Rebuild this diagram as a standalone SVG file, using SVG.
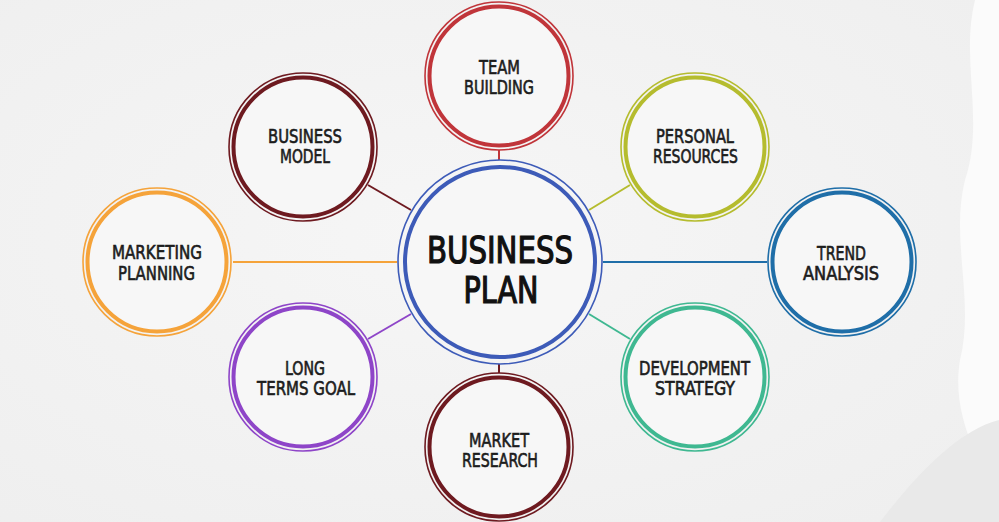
<svg xmlns="http://www.w3.org/2000/svg" width="999" height="522" viewBox="0 0 999 522">
<defs>
<radialGradient id="bg" cx="0.45" cy="0.45" r="0.8">
<stop offset="0" stop-color="#f6f6f6"/>
<stop offset="1" stop-color="#eeeeee"/>
</radialGradient>
</defs>
<style>
.t{font-family:"DejaVu Sans Condensed","DejaVu Sans",sans-serif;font-weight:normal;font-size:19px;fill:#1c1c1c;stroke:#1c1c1c;stroke-width:0.6;text-anchor:middle}
.c{font-family:"DejaVu Sans Condensed","DejaVu Sans",sans-serif;font-weight:normal;font-size:37px;fill:#111;stroke:#111;stroke-width:1.2;text-anchor:middle}
.o{fill:none;stroke-width:1.6}
.i{fill:#f7f7f7;stroke-width:4}
.ln{stroke-width:2;fill:none}
</style>
<rect width="999" height="522" fill="url(#bg)"/>
<path d="M975 0 C960 60 985 120 965 180 C950 240 975 300 960 360 C950 420 985 470 999 500 L999 0 Z" fill="#fbfbfb"/>
<path d="M880 522 C920 470 960 430 999 420 L999 522 Z" fill="#e9e9e9"/>
<g id="connectors">
<line class="ln" x1="499" y1="150" x2="499" y2="160" stroke="#c0353a"/>
<line class="ln" x1="499" y1="364" x2="499" y2="373" stroke="#6e1a20"/>
<line class="ln" x1="411" y1="210" x2="368" y2="185" stroke="#6e1a20"/>
<line class="ln" x1="589" y1="210" x2="630" y2="185" stroke="#b5bc2e"/>
<line class="ln" x1="233" y1="262" x2="397" y2="262" stroke="#f5a33a"/>
<line class="ln" x1="603" y1="262" x2="767" y2="262" stroke="#1f6ea8"/>
<line class="ln" x1="411" y1="314" x2="368" y2="339" stroke="#8e45c8"/>
<line class="ln" x1="589" y1="314" x2="630" y2="339" stroke="#3fb891"/>
</g>
<g id="center">
<circle cx="500" cy="262" r="102" class="o" stroke="#3d5bb8" stroke-width="2"/>
<circle cx="500" cy="262" r="95" class="i" stroke="#3d5bb8" stroke-width="5.5"/>
<text class="c" x="500" y="263" textLength="146" lengthAdjust="spacingAndGlyphs">BUSINESS</text>
<text class="c" x="501" y="303" textLength="75" lengthAdjust="spacingAndGlyphs">PLAN</text>
</g>
<g id="team-building">
<circle cx="499" cy="76" r="74" class="o" stroke="#c0353a"/>
<circle cx="499" cy="76" r="69.5" class="i" stroke="#c0353a"/>
<text class="t" x="499.5" y="74" textLength="41" lengthAdjust="spacingAndGlyphs">TEAM</text>
<text class="t" x="499" y="94" textLength="70" lengthAdjust="spacingAndGlyphs">BUILDING</text>
</g>
<g id="business-model">
<circle cx="303" cy="147" r="74" class="o" stroke="#6e1a20"/>
<circle cx="303" cy="147" r="69.5" class="i" stroke="#6e1a20"/>
<text class="t" x="305" y="143" textLength="74" lengthAdjust="spacingAndGlyphs">BUSINESS</text>
<text class="t" x="305" y="163" textLength="50" lengthAdjust="spacingAndGlyphs">MODEL</text>
</g>
<g id="personal-resources">
<circle cx="695" cy="147" r="74" class="o" stroke="#b5bc2e"/>
<circle cx="695" cy="147" r="69.5" class="i" stroke="#b5bc2e"/>
<text class="t" x="695" y="143" textLength="78" lengthAdjust="spacingAndGlyphs">PERSONAL</text>
<text class="t" x="695.5" y="163" textLength="85" lengthAdjust="spacingAndGlyphs">RESOURCES</text>
</g>
<g id="marketing-planning">
<circle cx="157" cy="262" r="74" class="o" stroke="#f5a33a"/>
<circle cx="157" cy="262" r="69.5" class="i" stroke="#f5a33a"/>
<text class="t" x="157" y="259" textLength="90" lengthAdjust="spacingAndGlyphs">MARKETING</text>
<text class="t" x="156.5" y="280" textLength="77" lengthAdjust="spacingAndGlyphs">PLANNING</text>
</g>
<g id="trend-analysis">
<circle cx="842" cy="262" r="74" class="o" stroke="#1f6ea8"/>
<circle cx="842" cy="262" r="69.5" class="i" stroke="#1f6ea8"/>
<text class="t" x="841.5" y="260" textLength="49" lengthAdjust="spacingAndGlyphs">TREND</text>
<text class="t" x="841" y="280" textLength="76" lengthAdjust="spacingAndGlyphs">ANALYSIS</text>
</g>
<g id="long-terms-goal">
<circle cx="303" cy="377" r="74" class="o" stroke="#8e45c8"/>
<circle cx="303" cy="377" r="69.5" class="i" stroke="#8e45c8"/>
<text class="t" x="305" y="375" textLength="40" lengthAdjust="spacingAndGlyphs">LONG</text>
<text class="t" x="306" y="395" textLength="98" lengthAdjust="spacingAndGlyphs">TERMS GOAL</text>
</g>
<g id="development-strategy">
<circle cx="695" cy="377" r="74" class="o" stroke="#3fb891"/>
<circle cx="695" cy="377" r="69.5" class="i" stroke="#3fb891"/>
<text class="t" x="694.5" y="375" textLength="111" lengthAdjust="spacingAndGlyphs">DEVELOPMENT</text>
<text class="t" x="695" y="395" textLength="80" lengthAdjust="spacingAndGlyphs">STRATEGY</text>
</g>
<g id="market-research">
<circle cx="499" cy="447" r="74" class="o" stroke="#6e1a20"/>
<circle cx="499" cy="447" r="69.5" class="i" stroke="#6e1a20"/>
<text class="t" x="499" y="447" textLength="60" lengthAdjust="spacingAndGlyphs">MARKET</text>
<text class="t" x="500" y="467" textLength="76" lengthAdjust="spacingAndGlyphs">RESEARCH</text>
</g>
</svg>
